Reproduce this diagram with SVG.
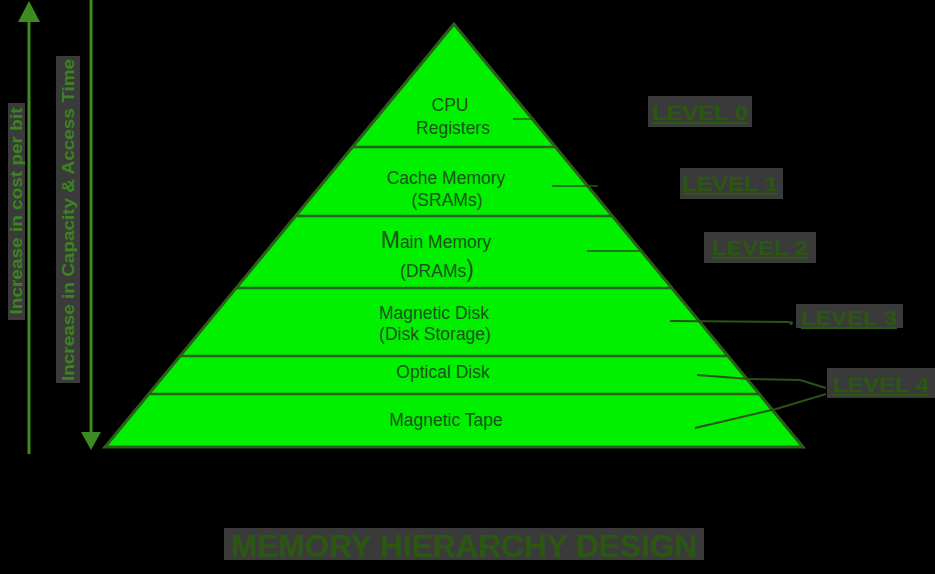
<svg xmlns="http://www.w3.org/2000/svg" width="935" height="574" viewBox="0 0 935 574">
<style>
.bg{fill:#000}
.box{fill:#3a3a3a}
.lvl{font-family:"Liberation Sans",Arial,sans-serif;font-weight:bold;font-size:21px;fill:#2a5810;text-decoration:underline}
.ttl{font-family:"Liberation Sans",Arial,sans-serif;font-weight:bold;font-size:32px;fill:#2a5810}
.ax{font-family:"Liberation Sans",Arial,sans-serif;font-weight:bold;font-size:16px;fill:#3a8420}
.pt{font-family:"Liberation Sans",Arial,sans-serif;font-size:17.5px;fill:#1a541a;text-anchor:middle}
.sep{stroke:#2a5e1a;stroke-width:2.5;fill:none}
.axl{stroke:#3d8b22;stroke-width:3;fill:none}
.con{stroke:#2a5218;stroke-width:2;fill:none}
.thin{stroke:#2a5218;stroke-width:1.3;fill:none}
</style>
<rect class="bg" x="0" y="0" width="935" height="574"/>

<g id="pyramid">
<polygon points="454,24 105,447 803,447" fill="#00f000" stroke="#2a5e1a" stroke-width="3" stroke-linejoin="miter"/>
<line class="sep" x1="353" y1="147" x2="555" y2="147"/>
<line class="sep" x1="296" y1="216" x2="612" y2="216"/>
<line class="sep" x1="236" y1="288" x2="672" y2="288"/>
<line class="sep" x1="180" y1="356" x2="728" y2="356"/>
<line class="sep" x1="149" y1="394" x2="759" y2="394"/>
</g>

<g id="n-cpu"><text class="pt" x="450" y="111">CPU</text><text class="pt" x="453" y="134">Registers</text></g>
<g id="n-cache"><text class="pt" x="446" y="184">Cache Memory</text><text class="pt" x="447" y="206">(SRAMs)</text></g>
<g id="n-main"><text class="pt" x="436" y="248"><tspan font-size="23">M</tspan>ain Memory</text><text class="pt" x="437" y="277">(DRAMs<tspan font-size="23">)</tspan></text></g>
<g id="n-disk"><text class="pt" x="434" y="319">Magnetic Disk</text><text class="pt" x="435" y="340">(Disk Storage)</text></g>
<g id="n-optical"><text class="pt" x="443" y="378">Optical Disk</text></g>
<g id="n-tape"><text class="pt" x="446" y="426">Magnetic Tape</text></g>

<g id="connectors">
<line class="thin" x1="513" y1="119" x2="535" y2="119"/>
<line class="thin" x1="552" y1="186" x2="598" y2="186"/>
<line class="thin" x1="587" y1="251" x2="640" y2="251"/>
<line class="con" x1="670" y1="321" x2="789" y2="322"/>
<circle cx="791" cy="323" r="2" fill="#2a5218"/>
<polyline class="con" points="697,375 750,379 800,380 826,388"/>
<polyline class="con" points="695,428 776,409 826,394"/>
</g>

<g id="levels">
<rect class="box" x="648" y="96" width="104" height="31"/>
<text class="lvl" x="700" y="120" text-anchor="middle" textLength="96" lengthAdjust="spacingAndGlyphs">LEVEL 0</text>
<rect class="box" x="680" y="168" width="103" height="31"/>
<text class="lvl" x="730" y="191" text-anchor="middle" textLength="96" lengthAdjust="spacingAndGlyphs">LEVEL 1</text>
<rect class="box" x="704" y="232" width="112" height="31"/>
<text class="lvl" x="760" y="255" text-anchor="middle" textLength="96" lengthAdjust="spacingAndGlyphs">LEVEL 2</text>
<rect class="box" x="796" y="304" width="107" height="24"/>
<text class="lvl" x="849" y="325" text-anchor="middle" textLength="96" lengthAdjust="spacingAndGlyphs">LEVEL 3</text>
<rect class="box" x="827" y="368" width="108" height="30"/>
<text class="lvl" x="881" y="392" text-anchor="middle" textLength="96" lengthAdjust="spacingAndGlyphs">LEVEL 4</text>
</g>

<g id="axis-cost">
<line class="axl" x1="29" y1="16" x2="29" y2="454"/>
<polygon points="29,1 18,22 40,22" fill="#3d8b22"/>
<rect class="box" x="8" y="103" width="17" height="217"/>
<text class="ax" transform="translate(16,211) rotate(-90)" x="0" y="6" text-anchor="middle" textLength="207" lengthAdjust="spacingAndGlyphs">Increase in cost per bit</text>
</g>

<g id="axis-capacity">
<line class="axl" x1="91" y1="0" x2="91" y2="440"/>
<polygon points="91,450 81,432 101,432" fill="#3d8b22"/>
<rect class="box" x="56" y="56" width="24" height="327"/>
<text class="ax" transform="translate(68,220) rotate(-90)" x="0" y="6" text-anchor="middle" textLength="322" lengthAdjust="spacingAndGlyphs">Increase in Capacity &amp; Access Time</text>
</g>

<g id="title">
<rect class="box" x="224" y="528" width="480" height="32"/>
<text class="ttl" x="464" y="557" text-anchor="middle" textLength="466" lengthAdjust="spacingAndGlyphs">MEMORY HIERARCHY DESIGN</text>
</g>
</svg>
